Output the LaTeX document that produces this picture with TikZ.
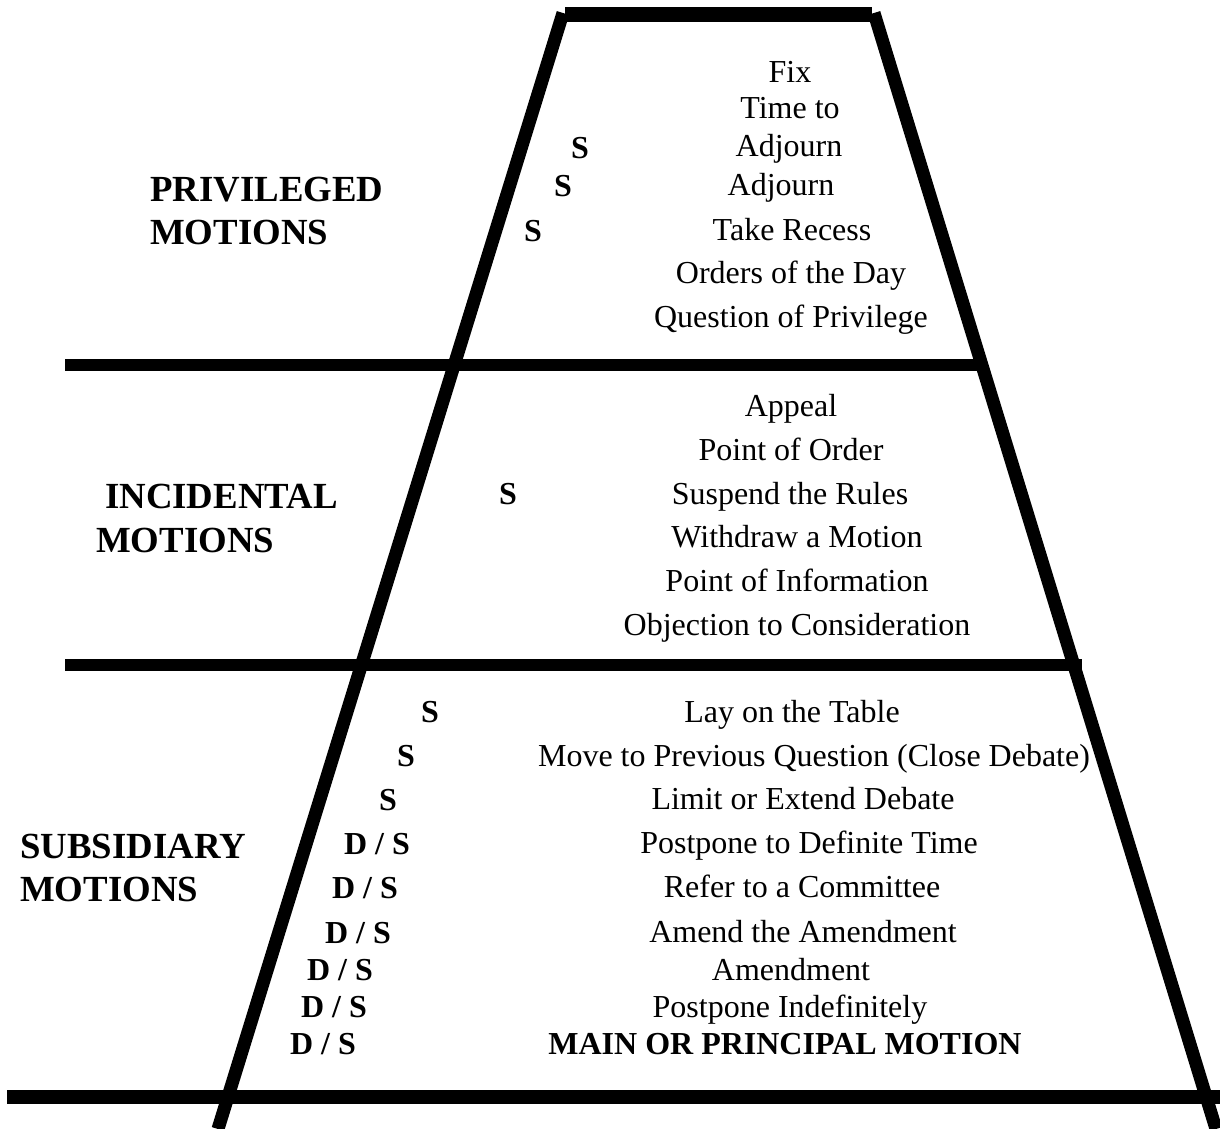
\documentclass[tikz,border=0pt]{standalone}
\usepackage{fontspec}
\setmainfont{Liberation Serif}
\begin{document}
\begin{tikzpicture}[x=1pt,y=-1pt,
  item/.style={anchor=base,inner sep=0pt,font=\fontsize{32}{38}\selectfont},
  smark/.style={anchor=base,inner sep=0pt,font=\fontsize{32}{38}\selectfont\bfseries},
  head/.style={anchor=base west,inner sep=0pt,font=\fontsize{36.8}{44}\selectfont\bfseries},
  bar/.style={line width=12pt,line cap=butt}]
\useasboundingbox (0,0) rectangle (1220,1129);
% frame
\coordinate (tl) at (563,13);
\coordinate (bl) at (218,1129);
\coordinate (tr) at (874,13);
\coordinate (br) at (1216,1129);
\draw[line width=13pt] (tl) -- (bl);
\draw[line width=13pt] (tr) -- (br);
\coordinate (t1) at (565,15);
\coordinate (t2) at (872,15);
\draw[line width=15pt] (t1) -- (t2);
\coordinate (a1) at (65,365);
\coordinate (a2) at (987,365);
\draw[bar] (a1) -- (a2);
\coordinate (b1) at (65,665);
\coordinate (b2) at (1082,665);
\draw[bar] (b1) -- (b2);
\coordinate (c1) at (7,1097);
\coordinate (c2) at (1220,1097);
\draw[line width=14pt] (c1) -- (c2);
% privileged
\node[item] (p1) at (790,83) {Fix};
\node[item] (p2) at (790,119) {Time to};
\node[item] (p3) at (789,157) {Adjourn};
\node[item] (p4) at (781,195) {Adjourn};
\node[item] (p5) at (792,240) {Take Recess};
\node[item] (p6) at (791,283) {Orders of the Day};
\node[item] (p7) at (791,327) {Question of Privilege};
\node[smark] (ps1) at (580,158) {S};
\node[smark] (ps2) at (563,196) {S};
\node[smark] (ps3) at (533,241) {S};
\node[head] (ph1) at (150,201) {PRIVILEGED};
\node[head] (ph2) at (150,244) {MOTIONS};
% incidental
\node[item] (i1) at (791,416) {Appeal};
\node[item] (i2) at (791,460) {Point of Order};
\node[item] (i3) at (790,504) {Suspend the Rules};
\node[item] (i4) at (797,547) {Withdraw a Motion};
\node[item] (i5) at (797,591) {Point of Information};
\node[item] (i6) at (797,635) {Objection to Consideration};
\node[smark] (is1) at (508,504) {S};
\node[head] (ih1) at (105,508) {INCIDENTAL};
\node[head] (ih2) at (96,552) {MOTIONS};
% subsidiary
\node[item] (s1) at (792,722) {Lay on the Table};
\node[item] (s2) at (814,766) {Move to Previous Question (Close Debate)};
\node[item] (s3) at (803,809) {Limit or Extend Debate};
\node[item] (s4) at (809,853) {Postpone to Definite Time};
\node[item] (s5) at (802,897) {Refer to a Committee};
\node[item] (s6) at (803,942) {Amend the Amendment};
\node[item] (s7) at (791,980) {Amendment};
\node[item] (s8) at (790,1017) {Postpone Indefinitely};
\node[smark] (s9) at (785,1054) {MAIN OR PRINCIPAL MOTION};
\node[smark] (ss1) at (430,722) {S};
\node[smark] (ss2) at (406,766) {S};
\node[smark] (ss3) at (388,810) {S};
\node[smark] (ss4) at (377,854) {D / S};
\node[smark] (ss5) at (365,898) {D / S};
\node[smark] (ss6) at (358,943) {D / S};
\node[smark] (ss7) at (340,980) {D / S};
\node[smark] (ss8) at (334,1017) {D / S};
\node[smark] (ss9) at (323,1054) {D / S};
\node[head] (sh1) at (20,858) {SUBSIDIARY};
\node[head] (sh2) at (20,901) {MOTIONS};
\end{tikzpicture}
\end{document}
